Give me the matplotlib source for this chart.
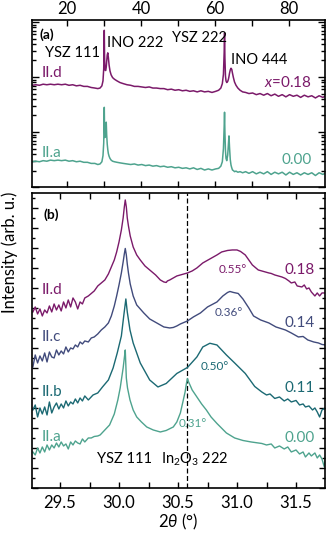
import matplotlib
matplotlib.use("Agg")
import matplotlib.pyplot as plt
import numpy as np
from matplotlib.ticker import MultipleLocator, LogLocator, NullFormatter

plt.rcParams['font.family'] = ['Lato', 'DejaVu Sans']
plt.rcParams['mathtext.fontset'] = 'custom'
plt.rcParams['mathtext.rm'] = 'Lato'
plt.rcParams['mathtext.it'] = 'Lato:italic'
plt.rcParams['mathtext.fallback'] = 'stixsans'

# colores de las muestras
c_a = '#4ea38e'
c_b = '#1b6973'
c_c = '#414b7c'
c_d = '#7b1a6a'

# ---- panel (a): barrido amplio, log10 de la intensidad ----
top_x = [10.5, 11.5, 12.5, 13.5, 14.5, 15.5, 16.5, 17.5, 18.5, 19.5,
         20.5, 21.5, 22.5, 23.5, 24.5, 25.5, 26.5, 27.5, 28.3, 28.9,
         29.4, 29.7, 29.9, 29.98, 30.05, 30.12, 30.2, 30.32, 30.45, 30.58,
         30.7, 30.85, 31.0, 31.15, 31.35, 31.6, 31.9, 32.3, 32.8, 33.5,
         34.3, 35.2, 36.2, 37.2, 38.2, 39.2, 40.2, 41.2, 42.2, 43.2,
         44.2, 45.2, 46.2, 47.2, 48.2, 49.2, 50.2, 51.2, 52.2, 53.2,
         54.2, 55.2, 56.2, 57.2, 58.2, 59.2, 60.2, 61.0, 61.6, 62.0,
         62.3, 62.5, 62.6, 62.7, 62.85, 63.0, 63.2, 63.45, 63.65, 63.8,
         63.95, 64.15, 64.35, 64.55, 64.75, 65.0, 65.3, 65.7, 66.2, 66.8,
         67.5, 68.3, 69.2, 70.2, 71.2, 72.2, 73.2, 74.2, 75.2, 76.2,
         77.2, 78.2, 79.2, 80.2, 81.2, 82.2, 83.2, 84.2, 85.2, 86.2,
         87.2, 88.2, 89.2, 89.8]
top_d = [1.85, 1.86, 1.85, 1.87, 1.86, 1.87, 1.86, 1.87, 1.86, 1.87,
         1.85, 1.86, 1.84, 1.85, 1.83, 1.83, 1.81, 1.80, 1.79, 1.80,
         1.84, 1.93, 2.15, 2.50, 2.85, 2.40, 2.20, 2.12, 2.12, 2.18,
         2.28, 2.40, 2.44, 2.36, 2.22, 2.11, 2.04, 1.99, 1.96, 1.93,
         1.90, 1.88, 1.86, 1.85, 1.83, 1.83, 1.82, 1.81, 1.82, 1.80,
         1.80, 1.79, 1.79, 1.77, 1.78, 1.76, 1.77, 1.75, 1.76, 1.74,
         1.75, 1.73, 1.75, 1.73, 1.74, 1.72, 1.74, 1.76, 1.80, 1.88,
         2.05, 2.45, 2.80, 2.35, 2.02, 1.93, 1.90, 1.92, 1.96, 2.01,
         2.07, 2.13, 2.16, 2.14, 2.07, 1.99, 1.91, 1.85, 1.80, 1.76,
         1.73, 1.72, 1.70, 1.71, 1.68, 1.70, 1.67, 1.70, 1.66, 1.69,
         1.65, 1.68, 1.64, 1.68, 1.65, 1.67, 1.63, 1.67, 1.64, 1.66,
         1.62, 1.66, 1.63, 1.65]
top_a = [0.46, 0.47, 0.46, 0.48, 0.47, 0.49, 0.48, 0.49, 0.48, 0.49,
         0.47, 0.48, 0.46, 0.47, 0.45, 0.45, 0.43, 0.43, 0.41, 0.42,
         0.46, 0.57, 0.80, 1.10, 1.45, 1.05, 0.90, 0.92, 1.02, 1.18,
         0.95, 0.78, 0.68, 0.61, 0.56, 0.52, 0.49, 0.47, 0.46, 0.45,
         0.44, 0.43, 0.42, 0.41, 0.42, 0.40, 0.41, 0.39, 0.40, 0.38,
         0.39, 0.37, 0.38, 0.36, 0.37, 0.35, 0.36, 0.34, 0.35, 0.33,
         0.35, 0.32, 0.34, 0.31, 0.33, 0.31, 0.33, 0.34, 0.38, 0.46,
         0.70, 1.10, 1.36, 1.00, 0.66, 0.52, 0.48, 0.58, 0.78, 0.93,
         0.72, 0.50, 0.40, 0.35, 0.31, 0.30, 0.28, 0.29, 0.27, 0.28,
         0.26, 0.28, 0.25, 0.28, 0.24, 0.27, 0.24, 0.28, 0.23, 0.27,
         0.24, 0.27, 0.22, 0.27, 0.23, 0.26, 0.22, 0.26, 0.23, 0.26,
         0.21, 0.26, 0.23, 0.25]

# ---- panel (b): zoom alrededor de 30 grados (intensidad con desplazamiento) ----
noisy_x = [29.27, 29.29, 29.31, 29.33, 29.35, 29.37, 29.39, 29.41, 29.43, 29.45,
           29.47, 29.49, 29.51, 29.53, 29.55, 29.57, 29.59, 29.61, 29.63, 29.65,
           29.67, 29.69, 29.71, 29.74]

d_x = noisy_x + [29.76, 29.79, 29.82, 29.85, 29.88, 29.91, 29.935, 29.96, 29.98, 30.0,
                 30.02, 30.035, 30.045, 30.053, 30.062, 30.07, 30.08, 30.095, 30.12, 30.15,
                 30.18, 30.22, 30.26, 30.31, 30.35, 30.38, 30.40, 30.41, 30.43, 30.46,
                 30.49, 30.52, 30.55, 30.58, 30.62, 30.66, 30.71, 30.77, 30.83, 30.87,
                 30.92, 30.96, 31.0, 31.03, 31.07, 31.10, 31.13, 31.16, 31.18, 31.21,
                 31.24, 31.27, 31.29, 31.32, 31.35, 31.38, 31.41, 31.44, 31.46, 31.49,
                 31.51, 31.55, 31.57, 31.59, 31.61, 31.63, 31.66, 31.68, 31.70, 31.72,
                 31.75]
d_y = [176, 181, 174, 179, 172, 178, 175, 182, 176, 184,
       178, 183, 177, 186, 180, 188, 181, 190, 186, 179,
       186, 184, 190, 192,
       194, 197, 202, 205, 208, 214, 221, 228, 236, 246,
       258, 270, 281, 288, 281, 270, 262, 252, 241, 233,
       228, 222, 218, 213, 208, 206, 205.5, 207, 208, 210,
       212, 213, 214, 215, 217, 220, 225, 229, 233, 236,
       237.5, 238, 238, 236.5, 233, 228, 223, 220, 218, 217,
       216, 215, 214.5, 213, 212, 211, 209.5, 207, 205, 206,
       202, 201, 203, 199, 200, 196, 192, 195, 192, 195,
       195]

c_x = noisy_x + [29.765, 29.79, 29.82, 29.85, 29.88, 29.91, 29.935, 29.96, 29.98, 30.0,
                 30.02, 30.035, 30.045, 30.053, 30.062, 30.07, 30.08, 30.095, 30.12, 30.15,
                 30.21, 30.26, 30.32, 30.38, 30.43, 30.46, 30.49, 30.52, 30.58, 30.63,
                 30.69, 30.75, 30.83, 30.88, 30.92, 30.94, 30.97, 31.01, 31.05, 31.10,
                 31.14, 31.20, 31.27, 31.33, 31.41, 31.46, 31.52, 31.56, 31.60, 31.65,
                 31.69, 31.72, 31.75]
c_y = [121, 133, 125, 132, 127, 135, 126, 136, 131, 130,
       138, 133, 137, 134, 141, 136, 140, 139, 143, 141,
       146, 144, 147, 146,
       150, 151, 154, 158, 161, 165, 172, 182, 192, 203,
       215, 226, 234, 239.5, 233, 224, 215, 204, 192, 183,
       175, 169, 165, 161, 160, 160.5, 162, 164, 167, 171,
       175, 181, 186, 192, 195.5, 196.5, 195.5, 194.5, 189, 180,
       172, 168, 165, 161, 158, 155, 151, 151.5, 148, 146,
       145, 143.5, 143]

b_x = noisy_x + [29.78, 29.82, 29.86, 29.91, 29.95, 29.985, 30.02, 30.04, 30.058, 30.07,
                 30.093, 30.12, 30.15, 30.18, 30.26, 30.33, 30.40, 30.49, 30.58, 30.66,
                 30.71, 30.77, 30.83, 30.91, 30.98, 31.07, 31.15, 31.21, 31.25, 31.28,
                 31.32, 31.36, 31.40, 31.43, 31.46, 31.50, 31.53, 31.56, 31.58, 31.61,
                 31.64, 31.66, 31.68, 31.70, 31.72, 31.75]
b_y = [78, 83, 71, 80, 74, 81, 73, 86, 75, 81,
       85, 79, 84, 80, 87, 82, 86, 84, 89, 85,
       90, 87, 92, 88,
       93, 95, 101, 108, 120, 135, 152, 172, 189, 176,
       158, 145, 135, 125, 108, 101, 104.5, 114.5, 120.5, 131,
       141, 144.7, 143, 133, 125, 114.5, 101.5, 96, 93, 94,
       89.5, 91, 87, 89, 86, 87.5, 83, 84, 81, 82,
       78, 80, 76, 71, 78, 80]

a_x = noisy_x + [29.765, 29.79, 29.82, 29.84, 29.88, 29.92, 29.96, 29.99, 30.01, 30.035,
                 30.045, 30.053, 30.062, 30.072, 30.093, 30.12, 30.15, 30.19, 30.235, 30.29,
                 30.35, 30.40, 30.46, 30.49, 30.52, 30.545, 30.56, 30.572, 30.58, 30.59,
                 30.62, 30.66, 30.70, 30.74, 30.78, 30.83, 30.91, 30.98, 31.05, 31.12,
                 31.18, 31.21, 31.25, 31.29, 31.32, 31.36, 31.40, 31.43, 31.46, 31.50,
                 31.53, 31.56, 31.58, 31.61, 31.63, 31.66, 31.68, 31.70, 31.72, 31.74,
                 31.75]
a_y = [36, 33, 40, 35, 41, 36, 43, 38, 43, 40,
       45, 41, 46, 42, 44, 39, 46, 43, 47, 45,
       44, 49, 46, 50,
       50, 51.5, 52, 53, 58, 63, 74, 88, 100, 120,
       130, 138, 110, 100, 88, 78, 71, 66, 61, 58,
       56, 57.5, 61, 66, 75, 88, 96, 105, 109.5, 106,
       98, 91, 84, 78, 71, 64.5, 55, 50, 47.5, 46,
       45, 44.5, 43, 44, 40, 42, 39, 41, 36, 38,
       34, 36, 31, 35, 32, 35, 30, 33, 29, 21,
       32]

fig = plt.figure(figsize=(3.27, 5.36), dpi=100)
ax1 = fig.add_axes([0.098, 0.651, 0.896, 0.312])
ax2 = fig.add_axes([0.098, 0.0896, 0.896, 0.5504])

# panel (a)
ax1.semilogy(top_x, 10 ** np.array(top_d), color=c_d, lw=1.1)
ax1.semilogy(top_x, 10 ** np.array(top_a), color=c_a, lw=1.1)
ax1.set_xlim(10.5, 89.8)
ax1.set_ylim(1, 10 ** 3.04)
ax1.xaxis.set_major_locator(MultipleLocator(20))
ax1.xaxis.set_minor_locator(MultipleLocator(10))
ax1.yaxis.set_major_locator(LogLocator(base=10))
ax1.yaxis.set_minor_locator(LogLocator(base=10, subs=np.arange(2, 10)))
ax1.yaxis.set_major_formatter(NullFormatter())
ax1.yaxis.set_minor_formatter(NullFormatter())
ax1.tick_params(axis='x', which='both', direction='in', top=True, bottom=True,
                labeltop=True, labelbottom=False, length=4, width=1, labelsize=12, pad=2)
ax1.tick_params(axis='y', which='major', direction='in', left=True, right=True, length=5, width=1)
ax1.tick_params(axis='y', which='minor', direction='in', left=True, right=True, length=3, width=1)

t = ax1.transAxes
fp = 10.5   # etiquetas de picos
fs = 11     # etiquetas de muestras
ax1.text(0.027, 0.91, '(a)', transform=t, fontsize=10, fontweight='bold', va='center')
ax1.text(0.232, 0.80, 'YSZ 111', transform=t, fontsize=fp, ha='right', va='center')
ax1.text(0.256, 0.862, 'INO 222', transform=t, fontsize=fp, va='center')
ax1.text(0.478, 0.892, 'YSZ 222', transform=t, fontsize=fp, va='center')
ax1.text(0.679, 0.76, 'INO 444', transform=t, fontsize=fp, va='center')
ax1.text(0.034, 0.683, 'II.d', transform=t, fontsize=fs, color=c_d, va='center')
ax1.text(0.956, 0.623, '$x$=0.18', transform=t, fontsize=fs, color=c_d, ha='right', va='center')
ax1.text(0.034, 0.204, 'II.a', transform=t, fontsize=fs, color=c_a, va='center')
ax1.text(0.956, 0.162, '0.00', transform=t, fontsize=fs, color=c_a, ha='right', va='center')

# panel (b)
ax2.axvline(30.58, color='black', ls=(0, (4, 2)), lw=0.9)
ax2.plot(a_x, a_y, color=c_a, lw=1.0)
ax2.plot(b_x, b_y, color=c_b, lw=1.0)
ax2.plot(c_x, c_y, color=c_c, lw=1.0)
ax2.plot(d_x, d_y, color=c_d, lw=1.0)
ax2.set_xlim(29.263, 31.746)
ax2.set_ylim(0, 295)
ax2.xaxis.set_minor_locator(MultipleLocator(0.25))
ax2.yaxis.set_major_locator(MultipleLocator(20))
ax2.yaxis.set_minor_locator(MultipleLocator(10))
ax2.yaxis.set_major_formatter(NullFormatter())
ax2.set_xticks([29.5, 30.0, 30.5, 31.0, 31.5])
ax2.set_xticklabels(['29.5', '30.0', '30.5', '31.0', '31.5'])
ax2.tick_params(axis='x', which='both', direction='in', top=True, bottom=True,
                length=4, width=1, labelsize=12, pad=5)
ax2.tick_params(axis='y', which='major', direction='in', left=True, right=True, length=4, width=1)
ax2.tick_params(axis='y', which='minor', direction='in', left=True, right=True, length=2.5, width=1)
ax2.set_xlabel(r'2$\theta$ (°)', fontsize=12, labelpad=1)

t = ax2.transAxes
ax2.text(0.0375, 0.925, '(b)', transform=t, fontsize=10, fontweight='bold', va='center')
for lab, yy, col in [('II.d', 0.671, c_d), ('II.c', 0.513, c_c), ('II.b', 0.326, c_b), ('II.a', 0.174, c_a)]:
    ax2.text(0.034, yy, lab, transform=t, fontsize=fs, color=col, va='center')
for lab, yy, col in [('0.18', 0.739, c_d), ('0.14', 0.560, c_c), ('0.11', 0.338, c_b), ('0.00', 0.168, c_a)]:
    ax2.text(0.966, yy, lab, transform=t, fontsize=fs, color=col, ha='right', va='center')
for lab, xx, yy, col in [('0.55°', 0.685, 0.742, c_d), ('0.36°', 0.672, 0.594, c_c),
                         ('0.50°', 0.625, 0.411, c_b), ('0.31°', 0.548, 0.217, c_a)]:
    ax2.text(xx, yy, lab, transform=t, fontsize=8.5, color=col, ha='center', va='center')
ax2.text(0.317, 0.098, 'YSZ 111', transform=t, fontsize=fp, ha='center', va='center')
ax2.text(0.556, 0.098, 'In$_2$O$_3$ 222', transform=t, fontsize=fp, ha='center', va='center')

for ax in (ax1, ax2):
    for s in ax.spines.values():
        s.set_linewidth(1.2)

fig.text(0.03, 0.53, 'Intensity (arb. u.)', rotation=90, fontsize=12, ha='center', va='center')

fig.savefig('out.png', dpi=100)
